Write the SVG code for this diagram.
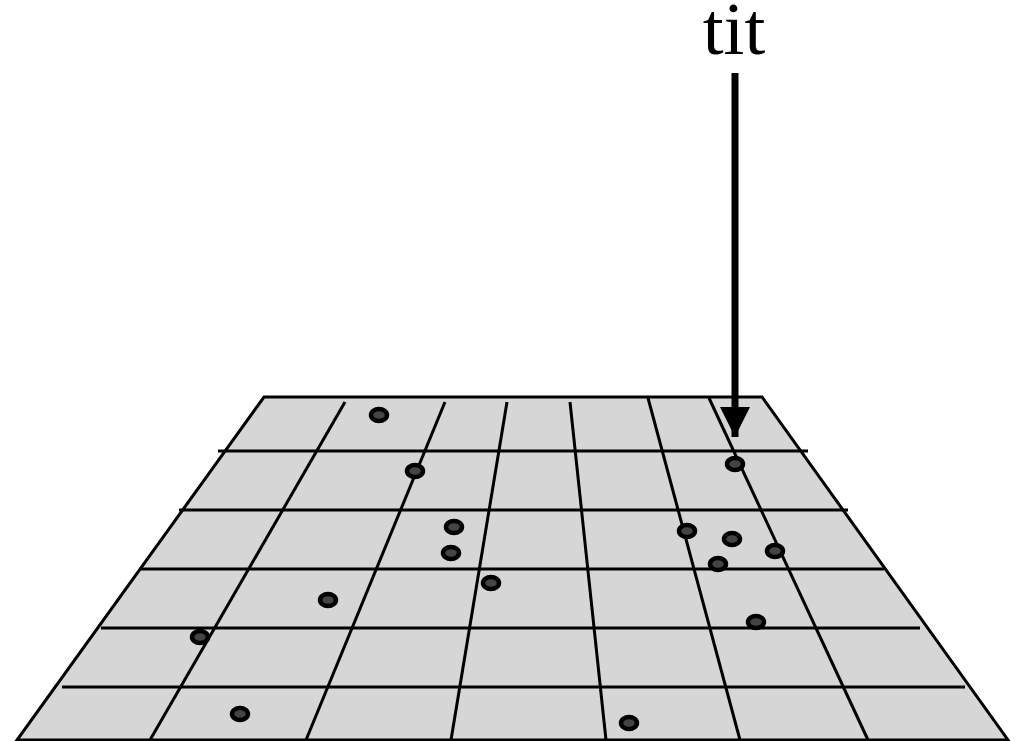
<svg xmlns="http://www.w3.org/2000/svg" width="1018" height="741" viewBox="0 0 1018 741">
<style>
.plane{fill:#d6d6d6;stroke:#000;stroke-width:3;stroke-linejoin:miter}
.grid line{stroke:#000;stroke-width:3}
.dot{fill:#444;stroke:#000;stroke-width:4.5}
.lbl{font-family:"Liberation Serif",serif;font-size:75px;fill:#000}
</style>
<defs>
<marker id="ah" markerUnits="userSpaceOnUse" markerWidth="30" markerHeight="30" viewBox="0 0 30 30" refX="30" refY="15" orient="auto">
<path d="M0,0 L30,15 L0,30 Z" fill="#000"/>
</marker>
</defs>
<g id="plane">
<polygon class="plane" points="264,397 762,397 1008,740 17,740"/>
<g class="grid">
<line x1="218" y1="451" x2="808" y2="451"/>
<line x1="179" y1="510" x2="848" y2="510"/>
<line x1="140" y1="569" x2="884" y2="569"/>
<line x1="101" y1="628" x2="920" y2="628"/>
<line x1="62" y1="687" x2="965" y2="687"/>
<line x1="345" y1="402" x2="150" y2="740"/>
<line x1="445" y1="402" x2="306" y2="740"/>
<line x1="507" y1="402" x2="451" y2="740"/>
<line x1="570" y1="402" x2="606" y2="740"/>
<line x1="648" y1="398" x2="740" y2="740"/>
<line x1="709" y1="398" x2="868" y2="740"/>
</g>
</g>
<g id="dots">
<ellipse class="dot" cx="379" cy="415" rx="8" ry="6"/>
<ellipse class="dot" cx="415" cy="471" rx="8" ry="6"/>
<ellipse class="dot" cx="454" cy="527" rx="8" ry="6"/>
<ellipse class="dot" cx="451" cy="553" rx="8" ry="6"/>
<ellipse class="dot" cx="491" cy="583" rx="8" ry="6"/>
<ellipse class="dot" cx="328" cy="600" rx="8" ry="6"/>
<ellipse class="dot" cx="200" cy="637" rx="8" ry="6"/>
<ellipse class="dot" cx="240" cy="714" rx="8" ry="6"/>
<ellipse class="dot" cx="629" cy="723" rx="8" ry="6"/>
<ellipse class="dot" cx="687" cy="531" rx="8" ry="6"/>
<ellipse class="dot" cx="732" cy="539" rx="8" ry="6"/>
<ellipse class="dot" cx="775" cy="551" rx="8" ry="6"/>
<ellipse class="dot" cx="718" cy="564" rx="8" ry="6"/>
<ellipse class="dot" cx="756" cy="622" rx="8" ry="6"/>
<ellipse class="dot" cx="735" cy="464" rx="8" ry="6"/>
</g>
<g id="label">
<text class="lbl" x="734" y="54" text-anchor="middle">tit</text>
</g>
<g id="connectors">
<line x1="735" y1="73" x2="735" y2="437" stroke="#000" stroke-width="7" marker-end="url(#ah)"/>
</g>
</svg>
